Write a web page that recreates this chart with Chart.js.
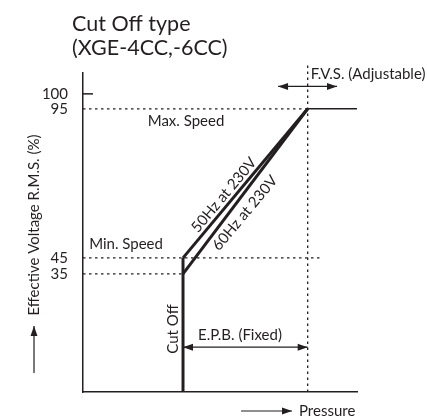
<!DOCTYPE html>
<html>
<head>
<meta charset="utf-8">
<script src="https://cdn.jsdelivr.net/npm/chart.js@4"></script>
<style>
  body { margin: 0; background: #fff; }
  canvas { display: block; }
</style>
</head>
<body>
<canvas id="myChart" width="427" height="416"></canvas>
<script>
// values (pressure is unitless 0-100)
const voltageTicks = [35, 45, 95, 100];
const cutOffPressure = [36.5, 36.5];
const cutOffVoltage = [0, 45];
const hz50Pressure = [36.5, 82];
const hz50Voltage = [45, 95];
const hz60Pressure = [36.5, 82];
const hz60Voltage = [35, 95];
const maxPressure = [82, 100];
const maxVoltage = [95, 95];
const guide95Pressure = [0, 82];
const guide95Voltage = [95, 95];
const guide45Pressure = [0, 87.6];
const guide45Voltage = [45, 45];
const guide35Pressure = [0, 36.5];
const guide35Voltage = [35, 35];
const fvsPressure = [82, 82];
const fvsVoltage = [0, 109.5];

const ink = "#231f20";
const font = "Lato, 'Liberation Sans', sans-serif";

// axis is drawn schematically: 0..45 is squeezed/stretched, above 45 is linear
function warp(v) {
  if (v >= 45) return v;
  if (v >= 35) return 39.6 + (v - 35) * (45 - 39.6) / 10;
  return v * 39.6 / 35;
}
function unwarp(w) {
  if (w >= 45) return w;
  if (w >= 39.6) return 35 + (w - 39.6) * 10 / (45 - 39.6);
  return w * 35 / 39.6;
}

class BrokenScale extends Chart.LinearScale {
  getPixelForValue(v) { return super.getPixelForValue(warp(v)); }
  getValueForPixel(p) { return unwarp(super.getValueForPixel(p)); }
}
BrokenScale.id = "broken";
BrokenScale.defaults = Chart.LinearScale.defaults;
Chart.register(BrokenScale);

function pts(xs, ys) {
  return xs.map((x, i) => ({ x: x, y: ys[i] }));
}

function line(xs, ys, width, dash, clip) {
  return {
    data: pts(xs, ys),
    showLine: true,
    borderColor: ink,
    borderWidth: width,
    borderDash: dash || [],
    pointRadius: 0,
    fill: false,
    clip: clip === undefined ? 5 : clip
  };
}

function arrowHead(ctx, x, y, ang) {
  ctx.save();
  ctx.translate(x, y);
  ctx.rotate(ang);
  ctx.beginPath();
  ctx.moveTo(0, 0);
  ctx.lineTo(-10, -3.5);
  ctx.lineTo(-10, 3.5);
  ctx.closePath();
  ctx.fill();
  ctx.restore();
}

function arrow(ctx, x1, y1, x2, y2, both) {
  ctx.beginPath();
  ctx.moveTo(x1, y1);
  ctx.lineTo(x2, y2);
  ctx.stroke();
  const a = Math.atan2(y2 - y1, x2 - x1);
  arrowHead(ctx, x2, y2, a);
  if (both) arrowHead(ctx, x1, y1, a + Math.PI);
}

function text(ctx, str, x, y, size, align, rot) {
  ctx.save();
  ctx.translate(x, y);
  if (rot) ctx.rotate(rot);
  ctx.font = size + "px " + font;
  ctx.textAlign = align || "center";
  ctx.textBaseline = "middle";
  ctx.fillText(str, 0, 0);
  ctx.restore();
}

const notes = {
  id: "notes",
  afterDraw(chart) {
    const ctx = chart.ctx;
    const xs = chart.scales.x;
    const ys = chart.scales.y;
    const area = chart.chartArea;
    ctx.save();
    ctx.fillStyle = ink;
    ctx.strokeStyle = ink;
    ctx.lineWidth = 1.2;

    // title
    ctx.font = "21.5px " + font;
    ctx.textAlign = "left";
    ctx.textBaseline = "alphabetic";
    ctx.fillText("Cut Off type", 72, 31);
    ctx.fillText("(XGE-4CC,-6CC)", 72, 55);

    // tick mark at 100
    ctx.lineWidth = 1.5;
    ctx.beginPath();
    ctx.moveTo(area.left, ys.getPixelForValue(100));
    ctx.lineTo(area.left + 10, ys.getPixelForValue(100));
    ctx.stroke();
    ctx.lineWidth = 1.2;

    text(ctx, "F.V.S. (Adjustable)", xs.getPixelForValue(82) + 3, 74, 15, "left");
    arrow(ctx, xs.getPixelForValue(71.2), ys.getPixelForValue(102.5),
               xs.getPixelForValue(92.7), ys.getPixelForValue(102.5), true);

    text(ctx, "Max. Speed", xs.getPixelForValue(37.6), ys.getPixelForValue(91), 15);
    text(ctx, "Min. Speed", xs.getPixelForValue(15.7), ys.getPixelForValue(49.5), 15);

    const ang = -50 * Math.PI / 180;
    text(ctx, "50Hz at 230V", 224, 195, 15, "center", ang);
    text(ctx, "60Hz at 230V", 245, 213, 15, "center", ang);

    text(ctx, "Cut Off", xs.getPixelForValue(32.8), 329, 15, "center", -Math.PI / 2);
    text(ctx, "E.P.B. (Fixed)", xs.getPixelForValue(42), 335, 15, "left");
    arrow(ctx, xs.getPixelForValue(36.5), ys.getPixelForValue(13.3),
               xs.getPixelForValue(82), ys.getPixelForValue(13.3), true);

    // axis captions
    text(ctx, "Effective Voltage R.M.S. (%)", 34, 225, 15, "center", -Math.PI / 2);
    arrow(ctx, 34, 373, 34, 326, false);
    text(ctx, "Pressure", 299, 411, 15, "left");
    arrow(ctx, 241, 411, 292, 411, false);

    ctx.restore();
  }
};

const ctx = document.getElementById("myChart").getContext("2d");
const myChart = new Chart(ctx, {
  type: "scatter",
  data: {
    datasets: [
      line(guide95Pressure, guide95Voltage, 1.3, [2.5, 3.5]),
      line(guide45Pressure, guide45Voltage, 1.3, [2.5, 3.5]),
      line(guide35Pressure, guide35Voltage, 1.3, [2.5, 3.5]),
      line(fvsPressure, fvsVoltage, 1.3, [2.5, 3.5], false),
      line(maxPressure, maxVoltage, 1.6),
      line(hz50Pressure, hz50Voltage, 3),
      line(hz60Pressure, hz60Voltage, 3),
      line(cutOffPressure, cutOffVoltage, 3)
    ]
  },
  options: {
    responsive: false,
    animation: false,
    layout: { padding: { top: 73, right: 70, bottom: 24, left: 0 } },
    plugins: { legend: { display: false }, tooltip: { enabled: false } },
    scales: {
      x: {
        type: "linear",
        min: 0,
        max: 100,
        grid: { display: false },
        ticks: { display: false },
        border: { display: true, color: ink, width: 1.5 },
        afterFit: (s) => { s.height = 0; }
      },
      y: {
        type: "broken",
        min: 0,
        max: 107,
        grid: { display: false },
        border: { display: true, color: ink, width: 1.5 },
        ticks: {
          color: ink,
          padding: 7,
          font: { family: font, size: 15 }
        },
        afterBuildTicks: (s) => { s.ticks = voltageTicks.map(v => ({ value: v })); },
        afterFit: (s) => { s.width = 83; }
      }
    }
  },
  plugins: [notes]
});
</script>
</body>
</html>
